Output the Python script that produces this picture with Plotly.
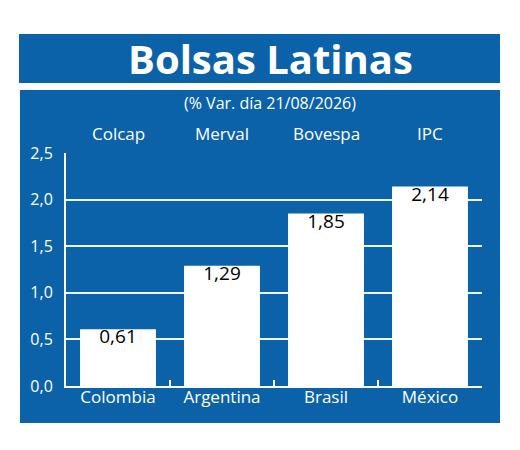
import plotly.graph_objects as go

paises = ["Colombia", "Argentina", "Brasil", "México"]
indices = ["Colcap", "Merval", "Bovespa", "IPC"]
variacion = [0.61, 1.29, 1.85, 2.14]

AZUL = "#0b62a9"
FUENTE = "Open Sans"

# la pagina deja 8 px de margen en el body
OFF = 8
W, H = 520 - OFF, 450 - OFF
# area del grafico en pixeles de la imagen final
L, R, T, B = 66, 482, 153, 386


def px_x(p):
    return (p - L) / (R - L)


def px_y(p):
    return (B - p) / (B - T)


fig = go.Figure()

fig.add_trace(
    go.Bar(
        x=paises,
        y=variacion,
        marker=dict(color="white", line=dict(width=0)),
        hoverinfo="skip",
        showlegend=False,
    )
)

# valores dentro de la barra, pegados arriba
fig.add_trace(
    go.Scatter(
        x=paises,
        y=variacion,
        mode="text",
        texttemplate="%{y:.2f}",
        textposition="bottom center",
        textfont=dict(color="black", size=19, family=FUENTE),
        showlegend=False,
    )
)

# nombres de los indices arriba de cada barra
for pais, indice in zip(paises, indices):
    fig.add_annotation(
        x=pais, xref="x",
        y=px_y(133), yref="paper",
        xanchor="center", yanchor="middle",
        text=indice, showarrow=False,
        font=dict(color="white", size=17, family=FUENTE),
    )

# fondos azules
fig.add_shape(
    type="rect", xref="paper", yref="paper", layer="below",
    x0=px_x(19), x1=px_x(500), y0=px_y(34), y1=px_y(83),
    fillcolor=AZUL, line=dict(width=0),
)
fig.add_shape(
    type="rect", xref="paper", yref="paper", layer="below",
    x0=px_x(20), x1=px_x(500), y0=px_y(90), y1=px_y(423),
    fillcolor=AZUL, line=dict(width=0),
)

fig.add_annotation(
    x=px_x(270), y=px_y(58), xref="paper", yref="paper",
    xanchor="center", yanchor="middle",
    text="<b>Bolsas Latinas</b>", showarrow=False,
    font=dict(color="white", size=40, family=FUENTE),
)
fig.add_annotation(
    x=px_x(270), y=px_y(103), xref="paper", yref="paper",
    xanchor="center", yanchor="middle",
    text="(% Var. día 21/08/2026)", showarrow=False,
    font=dict(color="white", size=16, family=FUENTE),
)

fig.update_layout(
    width=W,
    height=H,
    margin=dict(l=L - OFF, r=W - (R - OFF), t=T - OFF, b=H - (B - OFF)),
    paper_bgcolor="white",
    plot_bgcolor="rgba(0,0,0,0)",
    separators=",.",
    bargap=0.27,
    font=dict(family=FUENTE, color="white"),
)

fig.update_xaxes(
    showline=True, linecolor="white", linewidth=2,
    ticks="inside", tickson="boundaries", ticklen=6,
    tickcolor="white", tickwidth=2,
    tickfont=dict(size=17, color="white"),
    ticklabelstandoff=-5,
    showgrid=False,
)
fig.update_yaxes(
    range=[0, 2.5],
    dtick=0.5,
    tickformat=".1f",
    showline=True, linecolor="white", linewidth=2,
    gridcolor="#eef6ff", gridwidth=2,
    zeroline=False,
    ticks="", ticklabelstandoff=8,
    tickfont=dict(size=16, color="white"),
)

fig.write_html("out.html")
